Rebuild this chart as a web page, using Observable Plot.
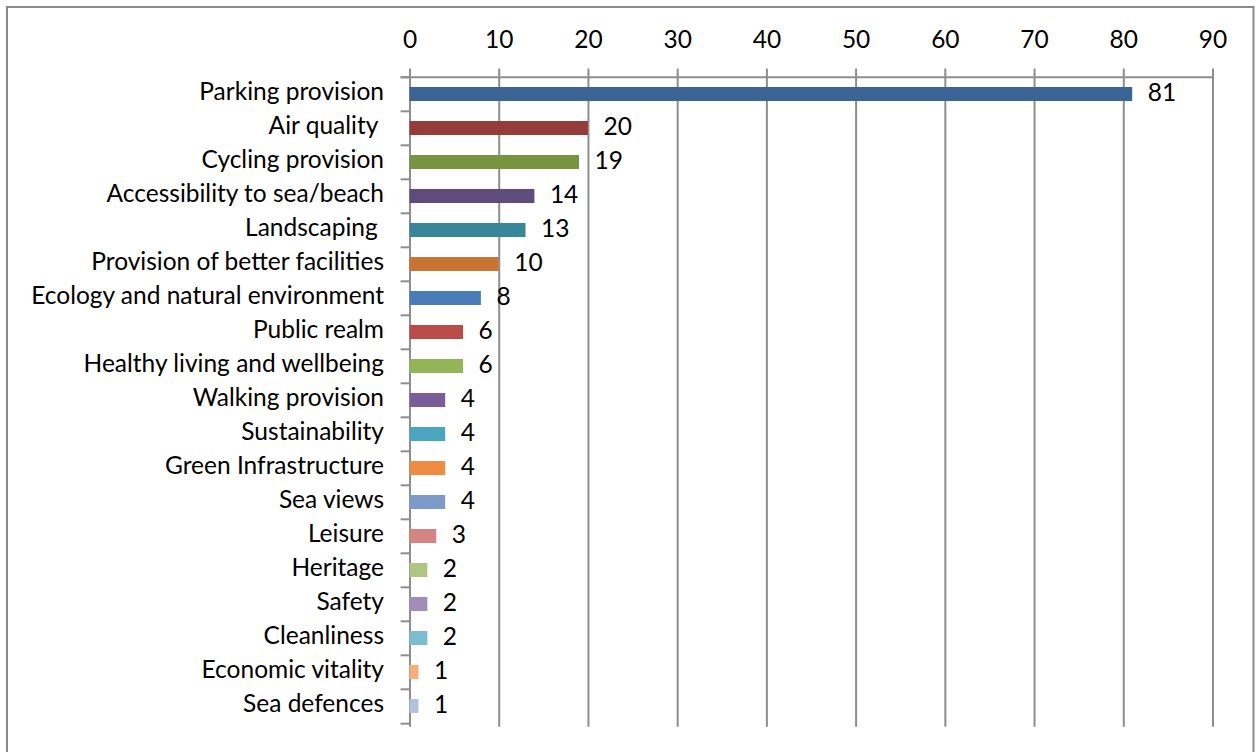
<!DOCTYPE html>
<html>
<head>
<meta charset="utf-8">
<script src="https://cdn.jsdelivr.net/npm/d3@7"></script>
<script src="https://cdn.jsdelivr.net/npm/@observablehq/plot@0.6"></script>
<style>
  html, body { margin: 0; padding: 0; background: #fff; }
  #chart svg text { white-space: pre; }
</style>
</head>
<body>
<div id="chart"></div>
<script>
const categories = [
  "Parking provision", "Air quality ", "Cycling provision", "Accessibility to sea/beach",
  "Landscaping ", "Provision of better facilities", "Ecology and natural environment",
  "Public realm", "Healthy living and wellbeing", "Walking provision", "Sustainability",
  "Green Infrastructure", "Sea views", "Leisure", "Heritage", "Safety", "Cleanliness",
  "Economic vitality", "Sea defences"
];
const values = [81, 20, 19, 14, 13, 10, 8, 6, 6, 4, 4, 4, 4, 3, 2, 2, 2, 1, 1];
const colors = [
  "#3C6395", "#953B3A", "#779440", "#5F4B7C", "#37869A", "#C87533", "#4A7CB8",
  "#B94B49", "#93B557", "#7A5E9B", "#4AA6BF", "#EE8C43", "#7E9ACB", "#D48483",
  "#AFC683", "#A08DBA", "#7BBCD0", "#F9AE7A", "#B3C1DE"
];
const xTicks = [0, 10, 20, 30, 40, 50, 60, 70, 80, 90];

const data = categories.map((c, i) => ({category: c, value: values[i], color: colors[i]}));

const W = 1255, H = 752;
const mTop = 73.5, mBottom = 25.3, mLeft = 409.5, mRight = 42.5;
const step = (H - mTop - mBottom) / categories.length;
const gridColor = "#8e8e8e";
const fs = 24.5;

const chart = Plot.plot({
  width: W,
  height: H,
  marginTop: mTop,
  marginBottom: mBottom,
  marginLeft: mLeft,
  marginRight: mRight,
  style: {fontFamily: "Lato, 'Open Sans', sans-serif", fontSize: fs + "px", color: "#000", background: "#fff"},
  x: {domain: [0, 90], ticks: xTicks, axis: null, label: null},
  y: {domain: categories, paddingInner: 0.59, paddingOuter: 0.295, axis: null, label: null},
  marks: [
    Plot.gridX(xTicks, {stroke: gridColor, strokeOpacity: 1, strokeWidth: 2}),
    Plot.axisX(xTicks, {anchor: "top", label: null, tickSize: 6, tickPadding: 20, stroke: gridColor, strokeWidth: 2, fontSize: fs, fill: "#000"}),
    // top border line
    Plot.ruleY([categories[0]], {x1: -1, x2: 90, dy: -step / 2, stroke: gridColor, strokeWidth: 2}),
    // category separator ticks
    Plot.ruleY(categories, {x1: -1, x2: 0, dy: -step / 2, stroke: gridColor, strokeWidth: 2}),
    Plot.ruleY([categories[categories.length - 1]], {x1: -1, x2: 0, dy: step / 2, stroke: gridColor, strokeWidth: 2}),
    Plot.barX(data, {y: "category", x: "value", fill: "color"}),
    Plot.text(data, {y: "category", x: "value", text: d => String(d.value), textAnchor: "start", dx: 15, dy: -1, fontSize: fs, fill: "#000"}),
    Plot.axisY({anchor: "left", label: null, tickSize: 0, tickPadding: 26, dy: -2, fontSize: fs, fill: "#000"})
  ]
});

// outer chart-area border
d3.select(chart).append("rect")
  .attr("x", 7).attr("y", 7).attr("width", 1246.5).attr("height", 760)
  .attr("fill", "none").attr("stroke", "#8a8a8a").attr("stroke-width", 2);

document.getElementById("chart").appendChild(chart);
</script>
</body>
</html>
